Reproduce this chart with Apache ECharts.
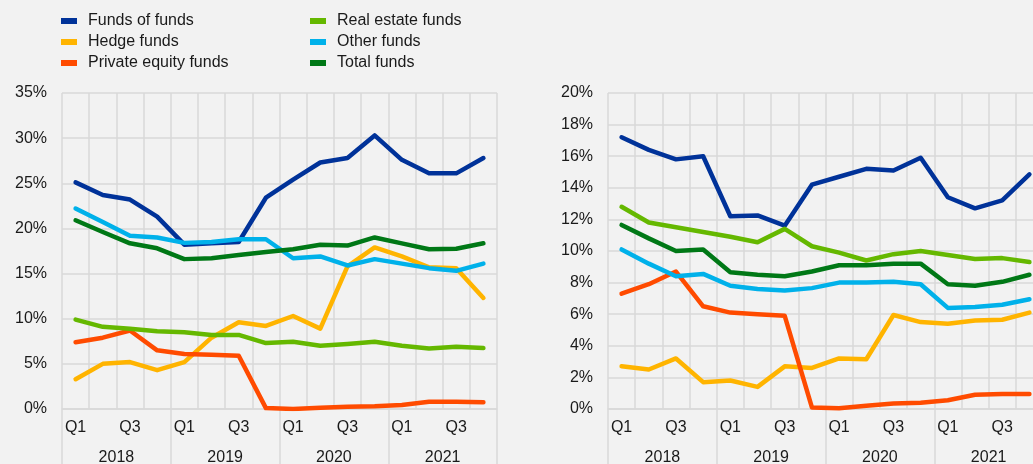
<!DOCTYPE html>
<html>
<head>
<meta charset="utf-8">
<script src="https://cdn.jsdelivr.net/npm/echarts@6/dist/echarts.min.js"></script>
<style>
  html, body { margin: 0; padding: 0; background: #f2f2f2; }
  #chart { width: 1033px; height: 464px; }
</style>
</head>
<body>
<div id="chart"></div>
<script>
// categories
const quarters = ['Q1','Q2','Q3','Q4','Q1','Q2','Q3','Q4','Q1','Q2','Q3','Q4','Q1','Q2','Q3','Q4'];
const years = ['2018', '2019', '2020', '2021'];
const seriesNames = ['Funds of funds', 'Hedge funds', 'Private equity funds', 'Real estate funds', 'Other funds', 'Total funds'];
const colors = ['#003299', '#ffb400', '#ff4b00', '#65b800', '#00b1ea', '#007816'];

// left panel (%)
const fofL   = [25.1, 23.7, 23.2, 21.3, 18.2, 18.35, 18.5, 23.4, 25.4, 27.3, 27.8, 30.3, 27.6, 26.1, 26.1, 27.8];
const hedgeL = [3.3, 5.0, 5.2, 4.3, 5.2, 7.9, 9.6, 9.2, 10.3, 8.9, 15.8, 17.9, 16.9, 15.7, 15.6, 12.3];
const peL    = [7.4, 7.9, 8.7, 6.5, 6.1, 6.0, 5.9, 0.1, 0.0, 0.15, 0.25, 0.3, 0.45, 0.8, 0.8, 0.75];
const reL    = [9.9, 9.1, 8.9, 8.6, 8.5, 8.2, 8.2, 7.3, 7.45, 7.0, 7.2, 7.45, 7.0, 6.7, 6.9, 6.75];
const otherL = [22.2, 20.7, 19.2, 19.0, 18.4, 18.5, 18.8, 18.8, 16.7, 16.9, 15.9, 16.6, 16.1, 15.6, 15.3, 16.1];
const totalL = [20.9, 19.6, 18.35, 17.8, 16.6, 16.7, 17.05, 17.4, 17.7, 18.2, 18.1, 19.0, 18.35, 17.7, 17.75, 18.35];

// right panel (%)
const fofR   = [17.2, 16.4, 15.8, 16.0, 12.2, 12.25, 11.6, 14.2, 14.7, 15.2, 15.1, 15.9, 13.4, 12.7, 13.2, 14.85];
const hedgeR = [2.7, 2.5, 3.2, 1.7, 1.8, 1.4, 2.7, 2.6, 3.2, 3.15, 5.95, 5.5, 5.4, 5.6, 5.65, 6.1];
const peR    = [7.3, 7.9, 8.7, 6.5, 6.1, 6.0, 5.9, 0.1, 0.05, 0.2, 0.35, 0.4, 0.55, 0.9, 0.95, 0.95];
const reR    = [12.8, 11.8, 11.5, 11.2, 10.9, 10.55, 11.4, 10.3, 9.9, 9.4, 9.8, 10.0, 9.75, 9.5, 9.55, 9.3];
const otherR = [10.1, 9.2, 8.4, 8.55, 7.8, 7.6, 7.5, 7.65, 8.0, 8.0, 8.05, 7.9, 6.4, 6.45, 6.6, 6.95];
const totalR = [11.65, 10.8, 10.0, 10.1, 8.65, 8.5, 8.4, 8.7, 9.1, 9.1, 9.2, 9.2, 7.9, 7.8, 8.05, 8.5];

const leftData = [fofL, hedgeL, peL, reL, otherL, totalL];
const rightData = [fofR, hedgeR, peR, reR, otherR, totalR];

const font = '"Liberation Sans", Arial, sans-serif';
const txt = '#1a1a1a';
const gridCol = '#d9d9d9';

const chart = echarts.init(document.getElementById('chart'));

const legendBase = {
    orient: 'vertical',
    top: 13,
    padding: 0,
    itemWidth: 16,
    itemHeight: 6,
    itemGap: 5,
    icon: 'rect',
    textStyle: { fontFamily: font, fontSize: 16, color: txt, lineHeight: 16, padding: [0, 0, 0, 6] }
};

const quarterAxis = (gi) => ({
    type: 'category',
    gridIndex: gi,
    data: quarters,
    boundaryGap: true,
    axisLine: { lineStyle: { color: gridCol, width: 1.5 } },
    axisTick: { show: false },
    axisLabel: { interval: 1, margin: 11, fontFamily: font, fontSize: 16, color: txt },
    splitLine: { show: true, interval: 0, lineStyle: { color: gridCol, width: 1.5 } }
});

const yearAxis = (gi) => ({
    type: 'category',
    gridIndex: gi,
    position: 'bottom',
    data: years,
    boundaryGap: true,
    axisLine: { show: false },
    axisTick: { show: true, interval: 0, length: 56, lineStyle: { color: gridCol, width: 1.5 } },
    axisLabel: { interval: 0, margin: 41, fontFamily: font, fontSize: 16, color: txt },
    splitLine: { show: false }
});

const valueAxis = (gi, max, step) => ({
    type: 'value',
    gridIndex: gi,
    min: 0,
    max: max,
    interval: step,
    axisLine: { show: false },
    axisTick: { show: false },
    axisLabel: { formatter: '{value}%', margin: 15, fontFamily: font, fontSize: 16, color: txt },
    splitLine: { lineStyle: { color: gridCol, width: 1.5 } }
});

const series = [];
seriesNames.forEach((name, i) => {
    series.push({
        name: name, type: 'line', xAxisIndex: 0, yAxisIndex: 0,
        data: leftData[i], symbol: 'none', color: colors[i],
        lineStyle: { width: 4.5, cap: 'round', join: 'round' }
    });
});
seriesNames.forEach((name, i) => {
    series.push({
        name: name, type: 'line', xAxisIndex: 2, yAxisIndex: 1,
        data: rightData[i], symbol: 'none', color: colors[i],
        lineStyle: { width: 4.5, cap: 'round', join: 'round' }
    });
});

chart.setOption({
    backgroundColor: '#f2f2f2',
    animation: false,
    legend: [
        Object.assign({}, legendBase, { left: 61, data: seriesNames.slice(0, 3) }),
        Object.assign({}, legendBase, { left: 310, data: seriesNames.slice(3) })
    ],
    grid: [
        { left: 62, top: 93, width: 435, height: 316, outerBoundsMode: 'none' },
        { left: 608, top: 93, right: -10, height: 316, outerBoundsMode: 'none' }
    ],
    xAxis: [quarterAxis(0), yearAxis(0), quarterAxis(1), yearAxis(1)],
    yAxis: [valueAxis(0, 35, 5), valueAxis(1, 20, 2)],
    series: series
});
</script>
</body>
</html>
